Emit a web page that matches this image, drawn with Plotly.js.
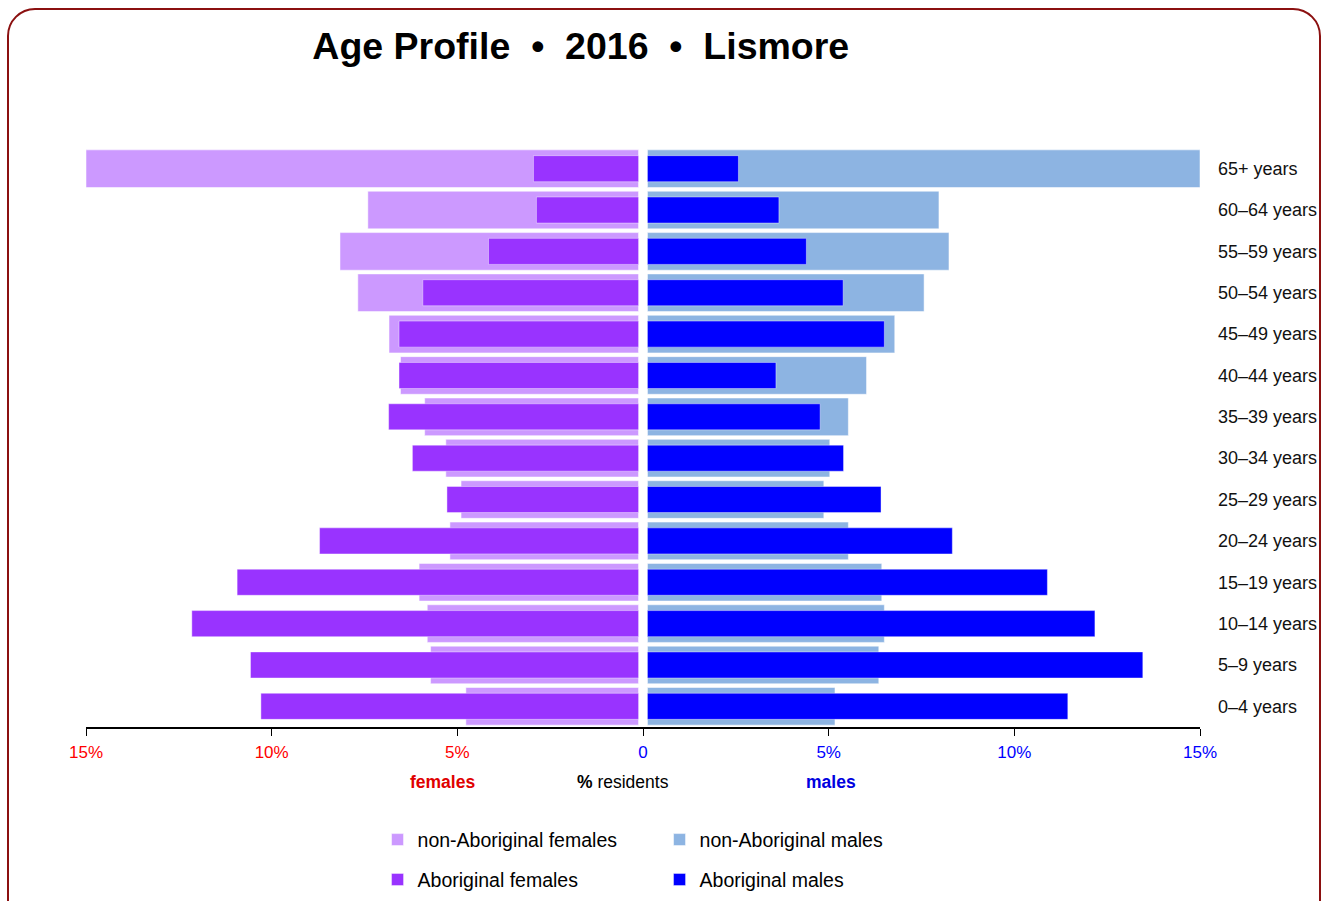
<!DOCTYPE html>
<html>
<head>
<meta charset="utf-8">
<script src="https://cdn.plot.ly/plotly-3.0.1.min.js"></script>
<style>
  html, body { margin: 0; padding: 0; background: #fff; overflow: hidden; }
  #chart { width: 1326px; height: 901px; position: absolute; left: 0; top: 0; }
  #frame { position: absolute; left: 7px; top: 8px; width: 1310px; height: 960px;
           border: 2px solid #8b1010; border-radius: 28px; pointer-events: none; }
</style>
</head>
<body>
<div id="chart"></div>
<div id="frame"></div>
<script>
// ---- data (percent of residents) ----
const ageGroups = ["0–4 years","5–9 years","10–14 years","15–19 years","20–24 years","25–29 years",
  "30–34 years","35–39 years","40–44 years","45–49 years","50–54 years","55–59 years","60–64 years","65+ years"];

const nonAborigFemales = [4.77, 5.72, 5.81, 6.03, 5.20, 4.90, 5.31, 5.88, 6.53, 6.84, 7.68, 8.16, 7.41, 15.0];
const aborigFemales    = [10.29, 10.57, 12.15, 10.93, 8.71, 5.28, 6.21, 6.85, 6.57, 6.57, 5.93, 4.16, 2.87, 2.95];
const nonAborigMales   = [5.17, 6.35, 6.50, 6.43, 5.53, 4.87, 5.03, 5.53, 6.02, 6.78, 7.57, 8.24, 7.97, 15.0];
const aborigMales      = [11.44, 13.46, 12.17, 10.89, 8.33, 6.41, 5.40, 4.77, 3.58, 6.50, 5.39, 4.40, 3.66, 2.57];

const tickVals  = [-15, -10, -5, 0, 5, 10, 15];
const tickTexts = ["15%", "10%", "5%", "0", "5%", "10%", "15%"];

// ---- styling ----
const FONT = "Liberation Sans, Arial, Helvetica, sans-serif";
const GAP = 0.12; // half-gap between the two halves of the pyramid (in % units)
const WIDE = 0.91, THIN = 0.63;

const femaleBar = (vals) => vals.map(v => -(v - GAP));
const maleBar = (vals) => vals.map(v => v - GAP);

const traces = [
  { type: "bar", orientation: "h", name: "non-Aboriginal females", y: ageGroups, x: femaleBar(nonAborigFemales),
    base: -GAP, width: WIDE, marker: { color: "#CC99FF", line: { color: "rgba(255,255,255,0.5)", width: 1 } }, legend: "legend" },
  { type: "bar", orientation: "h", name: "non-Aboriginal males", y: ageGroups, x: maleBar(nonAborigMales),
    base: GAP, width: WIDE, marker: { color: "#8DB4E2", line: { color: "rgba(255,255,255,0.5)", width: 1 } }, legend: "legend" },
  { type: "bar", orientation: "h", name: "Aboriginal females", y: ageGroups, x: femaleBar(aborigFemales),
    base: -GAP, width: THIN, marker: { color: "#9933FF", line: { color: "rgba(255,255,255,0.4)", width: 1 } }, legend: "legend2" },
  { type: "bar", orientation: "h", name: "Aboriginal males", y: ageGroups, x: maleBar(aborigMales),
    base: GAP, width: THIN, marker: { color: "#0000FF", line: { color: "rgba(255,255,255,0.4)", width: 1 } }, legend: "legend2" }
];

const coloredTicks = tickTexts.map((t, i) =>
  `<span style="color:${tickVals[i] < 0 ? '#FF0000' : '#0000FF'}">${t}</span>`);

const legendCommon = {
  orientation: "h", xref: "paper", yref: "paper", x: 0.2617, xanchor: "left", yanchor: "middle",
  font: { family: FONT, size: 19.5, color: "#000" }, entrywidth: 237, entrywidthmode: "pixels",
  bgcolor: "rgba(0,0,0,0)", traceorder: "normal", itemclick: false, itemdoubleclick: false
};

const layout = {
  width: 1326, height: 901,
  margin: { l: 86, r: 126, t: 148, b: 174, autoexpand: false },
  paper_bgcolor: "rgba(0,0,0,0)", plot_bgcolor: "rgba(0,0,0,0)",
  barmode: "overlay", bargap: 0,
  title: {
    text: "Age Profile  •  2016  •  Lismore",
    font: { family: FONT, size: 37.5, weight: "bold", color: "#000" },
    x: 0.438, xanchor: "center", xref: "container", y: 0.949, yanchor: "middle", yref: "container"
  },
  xaxis: {
    range: [-15, 15], tickvals: tickVals, ticktext: coloredTicks, showgrid: false, zeroline: false,
    showline: true, linecolor: "#000", linewidth: 2, ticks: "outside", ticklen: 7, tickcolor: "#000", tickwidth: 1,
    tickfont: { family: FONT, size: 17 }, ticklabelstandoff: 2, fixedrange: true
  },
  yaxis: {
    type: "category", categoryorder: "array", categoryarray: ageGroups, side: "right",
    showgrid: false, zeroline: false, showline: false, ticks: "",
    tickfont: { family: FONT, size: 18, color: "#111" }, ticklabelstandoff: 17, fixedrange: true
  },
  legend: Object.assign({}, legendCommon, { y: -0.195 }),
  legend2: Object.assign({}, legendCommon, { y: -0.264 }),
  annotations: [
    { text: "<b>females</b>", x: -5.4, xref: "x", y: -0.095, yref: "paper", yanchor: "middle", showarrow: false,
      font: { family: FONT, size: 17.5, color: "#E00000" } },
    { text: "<b>%</b> residents", x: -0.55, xref: "x", y: -0.095, yref: "paper", yanchor: "middle", showarrow: false,
      font: { family: FONT, size: 17.5, color: "#000" } },
    { text: "<b>males</b>", x: 5.05, xref: "x", y: -0.095, yref: "paper", yanchor: "middle", showarrow: false,
      font: { family: FONT, size: 17.5, color: "#0000E0" } }
  ],
  showlegend: true
};

Plotly.newPlot("chart", traces, layout, { displayModeBar: false, staticPlot: true });
</script>
</body>
</html>
